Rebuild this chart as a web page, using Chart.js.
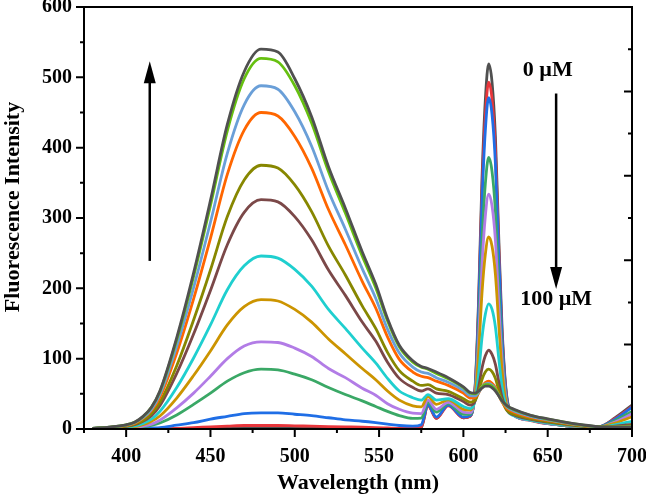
<!DOCTYPE html>
<html>
<head>
<meta charset="utf-8">
<script src="https://cdn.jsdelivr.net/npm/chart.js@4.4.1/dist/chart.umd.min.js"></script>
<style>
html, body { margin: 0; padding: 0; background: #fff; }
#wrap { width: 646px; height: 497px; }
</style>
</head>
<body>
<div id="wrap"><canvas id="spectra"></canvas></div>
<script>
// wavelength grid (nm), shared by all spectra
var wavelengths = [380, 390, 400, 405, 410, 415, 420, 430, 440, 450, 460, 470, 480, 490, 500, 510, 520, 530, 540, 548, 555, 562, 570,
    575, 579, 584, 591, 600, 604, 607, 609, 611, 613, 615, 617, 619, 621, 623, 626, 630, 640, 650, 660, 670, 680, 690, 700];

// one spectrum per titration step, 0 uM first, 100 uM last
var s01 = [0, 0, 0, 0, 0, 0, 0, 0.5, 1, 1, 1.5, 2, 2, 2, 2, 1.5, 1.5, 1, 1, 1, 0.5, 0.5, 0.5,
    2, 34, 15, 35, 16, 18, 62, 182, 353, 467, 519, 493, 415, 270, 140, 42, 21, 13, 8, 5, 3, 3, 16, 34];
var s02 = [0, 0, 0, 0, 0, 0.5, 0.5, 1, 2, 3, 4, 5, 5, 5, 4.5, 4, 3.5, 3, 2.5, 2, 1.5, 1, 1,
    3, 33, 15, 33, 16, 18, 60, 173, 336, 444, 493, 469, 395, 257, 133, 40, 20, 12, 7.5, 5, 3, 3, 15, 32];
var s03 = [0, 0, 0, 0.5, 1, 1.5, 2, 5.5, 9, 14, 18, 22, 23, 23, 21, 19, 16, 13, 11, 9, 7, 5, 4,
    6, 34, 17, 34, 17, 19, 58, 166, 321, 424, 471, 447, 377, 246, 128, 39, 20, 12.5, 7.5, 5, 3, 3, 14, 31];
var s04 = [0, 0.5, 1, 1.5, 3, 5, 8.5, 20, 35, 51, 68, 80, 85, 84, 78, 70, 59, 49, 40, 32, 25, 19, 15,
    15.5, 38, 24, 36, 21, 21, 53, 140, 265, 348, 386, 366, 309, 203, 108, 35, 19.5, 12.5, 8, 5, 3, 3, 12, 25];
var s05 = [0, 0.5, 1.5, 2, 4, 7, 12.5, 30, 51, 75, 100, 118, 124, 123, 115, 103, 86, 73, 58, 48, 36, 28, 22.5,
    22, 41, 28, 38, 24, 23, 50, 124, 231, 302, 334, 317, 268, 177, 96, 33, 19, 12.5, 8, 5.5, 3.3, 2.7, 10, 21.5];
var s06 = [0.5, 1, 2, 3, 6, 11, 18.5, 44, 76, 111, 148, 174, 184, 182, 170, 152, 128, 107, 86, 70, 54, 41, 33,
    31.5, 46, 35, 41.5, 28, 27, 48, 107, 192, 248, 273, 260, 220, 148, 82, 31, 20, 13, 8.7, 6, 3.6, 2.7, 8.5, 17.4];
var s07 = [0.5, 1, 3, 4.5, 8, 14, 25, 59, 101, 148, 198, 232, 246, 243, 227, 203, 170, 143, 115, 94, 72, 54, 44.5,
    41, 49, 41, 43, 32, 29, 41, 77, 129, 163, 178, 170, 145, 100, 59, 27, 19, 12.6, 8.8, 6, 3.7, 2.5, 6, 11];
var s08 = [0.7, 1.6, 3.6, 6, 11, 19, 33, 79, 135, 197, 262, 308, 326, 323, 302, 269, 226, 190, 152, 125, 95, 72, 59,
    54, 57, 51, 49, 39, 34, 40, 59, 86, 104, 112, 106, 92, 67, 44.5, 26, 20, 13.7, 9.8, 6.8, 4.1, 2.5, 4, 6.6];
var s09 = [0.8, 2, 4, 7, 12, 22, 38, 90, 155, 226, 302, 354, 375, 371, 347, 309, 260, 219, 175, 143, 109, 83, 68,
    62, 63, 57, 53.5, 43, 38, 41, 52, 70, 81, 85, 81.5, 72, 55, 40, 26, 21, 14.6, 10.6, 7.4, 4.4, 2.6, 3.2, 4.7];
var s10 = [1, 2.3, 5, 8, 15, 26, 45, 108, 185, 271, 362, 425, 450, 445, 416, 371, 312, 262, 210, 172, 131, 99, 81,
    75, 73, 68, 62, 51, 44, 45, 51, 60, 66, 68, 65, 59, 48, 38, 29, 24, 16.6, 12.3, 8.4, 5.2, 2.9, 2.8, 3.5];
var s11 = [1, 2.5, 5.4, 9, 16, 28, 49, 118, 201, 294, 392, 461, 488, 483, 451, 402, 338, 284, 228, 186, 142, 108, 88,
    81, 79, 73, 66.5, 55, 47.5, 47, 52, 60, 64, 65, 62.5, 57, 48, 39, 31, 25.6, 18, 13, 9, 5.6, 3.1, 2.8, 3.3];
var s12 = [1, 2.7, 5.8, 9.5, 17.5, 31, 53, 127, 217, 318, 424, 498, 527, 522, 488, 435, 366, 307, 246, 201, 154, 117, 95,
    88, 85, 79, 71.5, 59, 51, 50, 54, 59.5, 63, 63, 61, 56, 48, 40, 32.5, 27.4, 19.2, 14.1, 9.7, 5.9, 3.3, 2.8, 3];
var s13 = [1, 2.7, 6, 9.7, 18, 31, 54, 130, 222, 325, 433, 508, 540, 536, 498, 444, 373, 314, 252, 206, 157, 119, 97,
    89, 86, 81, 73, 60, 52, 51, 54, 58, 61, 61, 58.6, 54, 47, 40, 33, 28, 19.4, 14.4, 9.9, 6.1, 3.3, 2.8, 2.8];

var spectra = [s01, s02, s03, s04, s05, s06, s07, s08, s09, s10, s11, s12, s13];
var seriesNames = ['0 µM', 'step 2', 'step 3', 'step 4', 'step 5', 'step 6', 'step 7', 'step 8', 'step 9', 'step 10', 'step 11', 'step 12', '100 µM'];
var seriesColors = ['#505050', '#e8363c', '#1f6ee6', '#3aa866', '#b27ce6', '#cc9400', '#1fcfcf', '#7b4848', '#878700', '#ff6600', '#6a9fd8', '#66c010', '#505050'];

var xTickLabels = [400, 450, 500, 550, 600, 650, 700];
var xMinorTicks = [375, 425, 475, 525, 575, 625, 675];
var yTickLabels = [0, 100, 200, 300, 400, 500, 600];
var yMinorTicks = [50, 150, 250, 350, 450, 550];
var rightTicks = [0, 60, 120, 180, 240, 300, 360, 420, 480, 540, 600];

var tickFont = { family: 'Liberation Serif', weight: 'bold', size: 20 };
var titleFont = { family: 'Liberation Serif', weight: 'bold', size: 22 };

var datasets = spectra.map(function(vals, i) {
    return {
        label: seriesNames[i],
        data: wavelengths.map(function(w, j) { return { x: w, y: vals[j] }; }),
        borderColor: seriesColors[i],
        borderWidth: 2.8,
        pointRadius: 0,
        fill: false,
        cubicInterpolationMode: 'monotone',
        order: spectra.length - i
    };
});

function drawArrow(ctx, x, y0, y1) {
    var dir = y1 < y0 ? 1 : -1;
    ctx.beginPath();
    ctx.lineWidth = 2.5;
    ctx.moveTo(x, y0);
    ctx.lineTo(x, y1 + dir * 18);
    ctx.stroke();
    ctx.beginPath();
    ctx.moveTo(x, y1);
    ctx.lineTo(x - 6, y1 + dir * 22);
    ctx.lineTo(x + 6, y1 + dir * 22);
    ctx.closePath();
    ctx.fill();
}

var framePlugin = {
    id: 'frame',
    afterDraw: function(chart) {
        var ctx = chart.ctx, a = chart.chartArea;
        var xs = chart.scales.x, ys = chart.scales.y;
        ctx.save();
        ctx.strokeStyle = '#000';
        ctx.fillStyle = '#000';
        ctx.lineWidth = 2;
        ctx.strokeRect(a.left, a.top, a.right - a.left, a.bottom - a.top);

        ctx.beginPath();
        yTickLabels.forEach(function(v) { var p = ys.getPixelForValue(v); ctx.moveTo(a.left - 8, p); ctx.lineTo(a.left, p); });
        yMinorTicks.forEach(function(v) { var p = ys.getPixelForValue(v); ctx.moveTo(a.left - 4, p); ctx.lineTo(a.left, p); });
        xTickLabels.forEach(function(v) { var p = xs.getPixelForValue(v); ctx.moveTo(p, a.bottom); ctx.lineTo(p, a.bottom + 8); });
        xMinorTicks.forEach(function(v) { var p = xs.getPixelForValue(v); ctx.moveTo(p, a.bottom); ctx.lineTo(p, a.bottom + 4); });
        rightTicks.forEach(function(v, i) {
            var p = ys.getPixelForValue(v);
            var len = i % 2 === 0 ? 8 : 4;
            ctx.moveTo(a.right - len, p); ctx.lineTo(a.right, p);
        });
        ctx.stroke();

        drawArrow(ctx, xs.getPixelForValue(414), ys.getPixelForValue(239), ys.getPixelForValue(523));
        drawArrow(ctx, xs.getPixelForValue(655), ys.getPixelForValue(477), ys.getPixelForValue(199));

        ctx.font = 'bold 22px "Liberation Serif"';
        ctx.textAlign = 'center';
        ctx.textBaseline = 'middle';
        ctx.fillText('0 µM', xs.getPixelForValue(650), ys.getPixelForValue(510));
        ctx.fillText('100 µM', xs.getPixelForValue(655), ys.getPixelForValue(185));
        ctx.restore();
    }
};

new Chart(document.getElementById('spectra'), {
    type: 'line',
    data: { datasets: datasets },
    plugins: [framePlugin],
    options: {
        responsive: true,
        maintainAspectRatio: false,
        animation: false,
        events: [],
        layout: { padding: { top: 7, right: 14, left: 0, bottom: 0 } },
        plugins: { legend: { display: false }, tooltip: { enabled: false } },
        scales: {
            x: {
                type: 'linear',
                min: 375,
                max: 700,
                grid: { display: false, drawTicks: false },
                border: { display: false },
                afterBuildTicks: function(scale) { scale.ticks = xTickLabels.map(function(v) { return { value: v }; }); },
                afterFit: function(scale) { scale.height = 68; scale.paddingLeft = 0; scale.paddingRight = 0; },
                ticks: { color: '#000', font: tickFont, padding: 16, maxRotation: 0 },
                title: { display: true, text: 'Wavelength (nm)', color: '#000', padding: 0, font: titleFont }
            },
            y: {
                min: 0,
                max: 600,
                grid: { display: false, drawTicks: false },
                border: { display: false },
                afterBuildTicks: function(scale) { scale.ticks = yTickLabels.map(function(v) { return { value: v }; }); },
                afterFit: function(scale) { scale.width = 84; scale.paddingTop = 0; scale.paddingBottom = 0; },
                ticks: { color: '#000', font: tickFont, padding: 12 },
                title: { display: true, text: '    Fluorescence Intensity', color: '#000', padding: 0, font: titleFont }
            }
        }
    }
});
</script>
</body>
</html>
